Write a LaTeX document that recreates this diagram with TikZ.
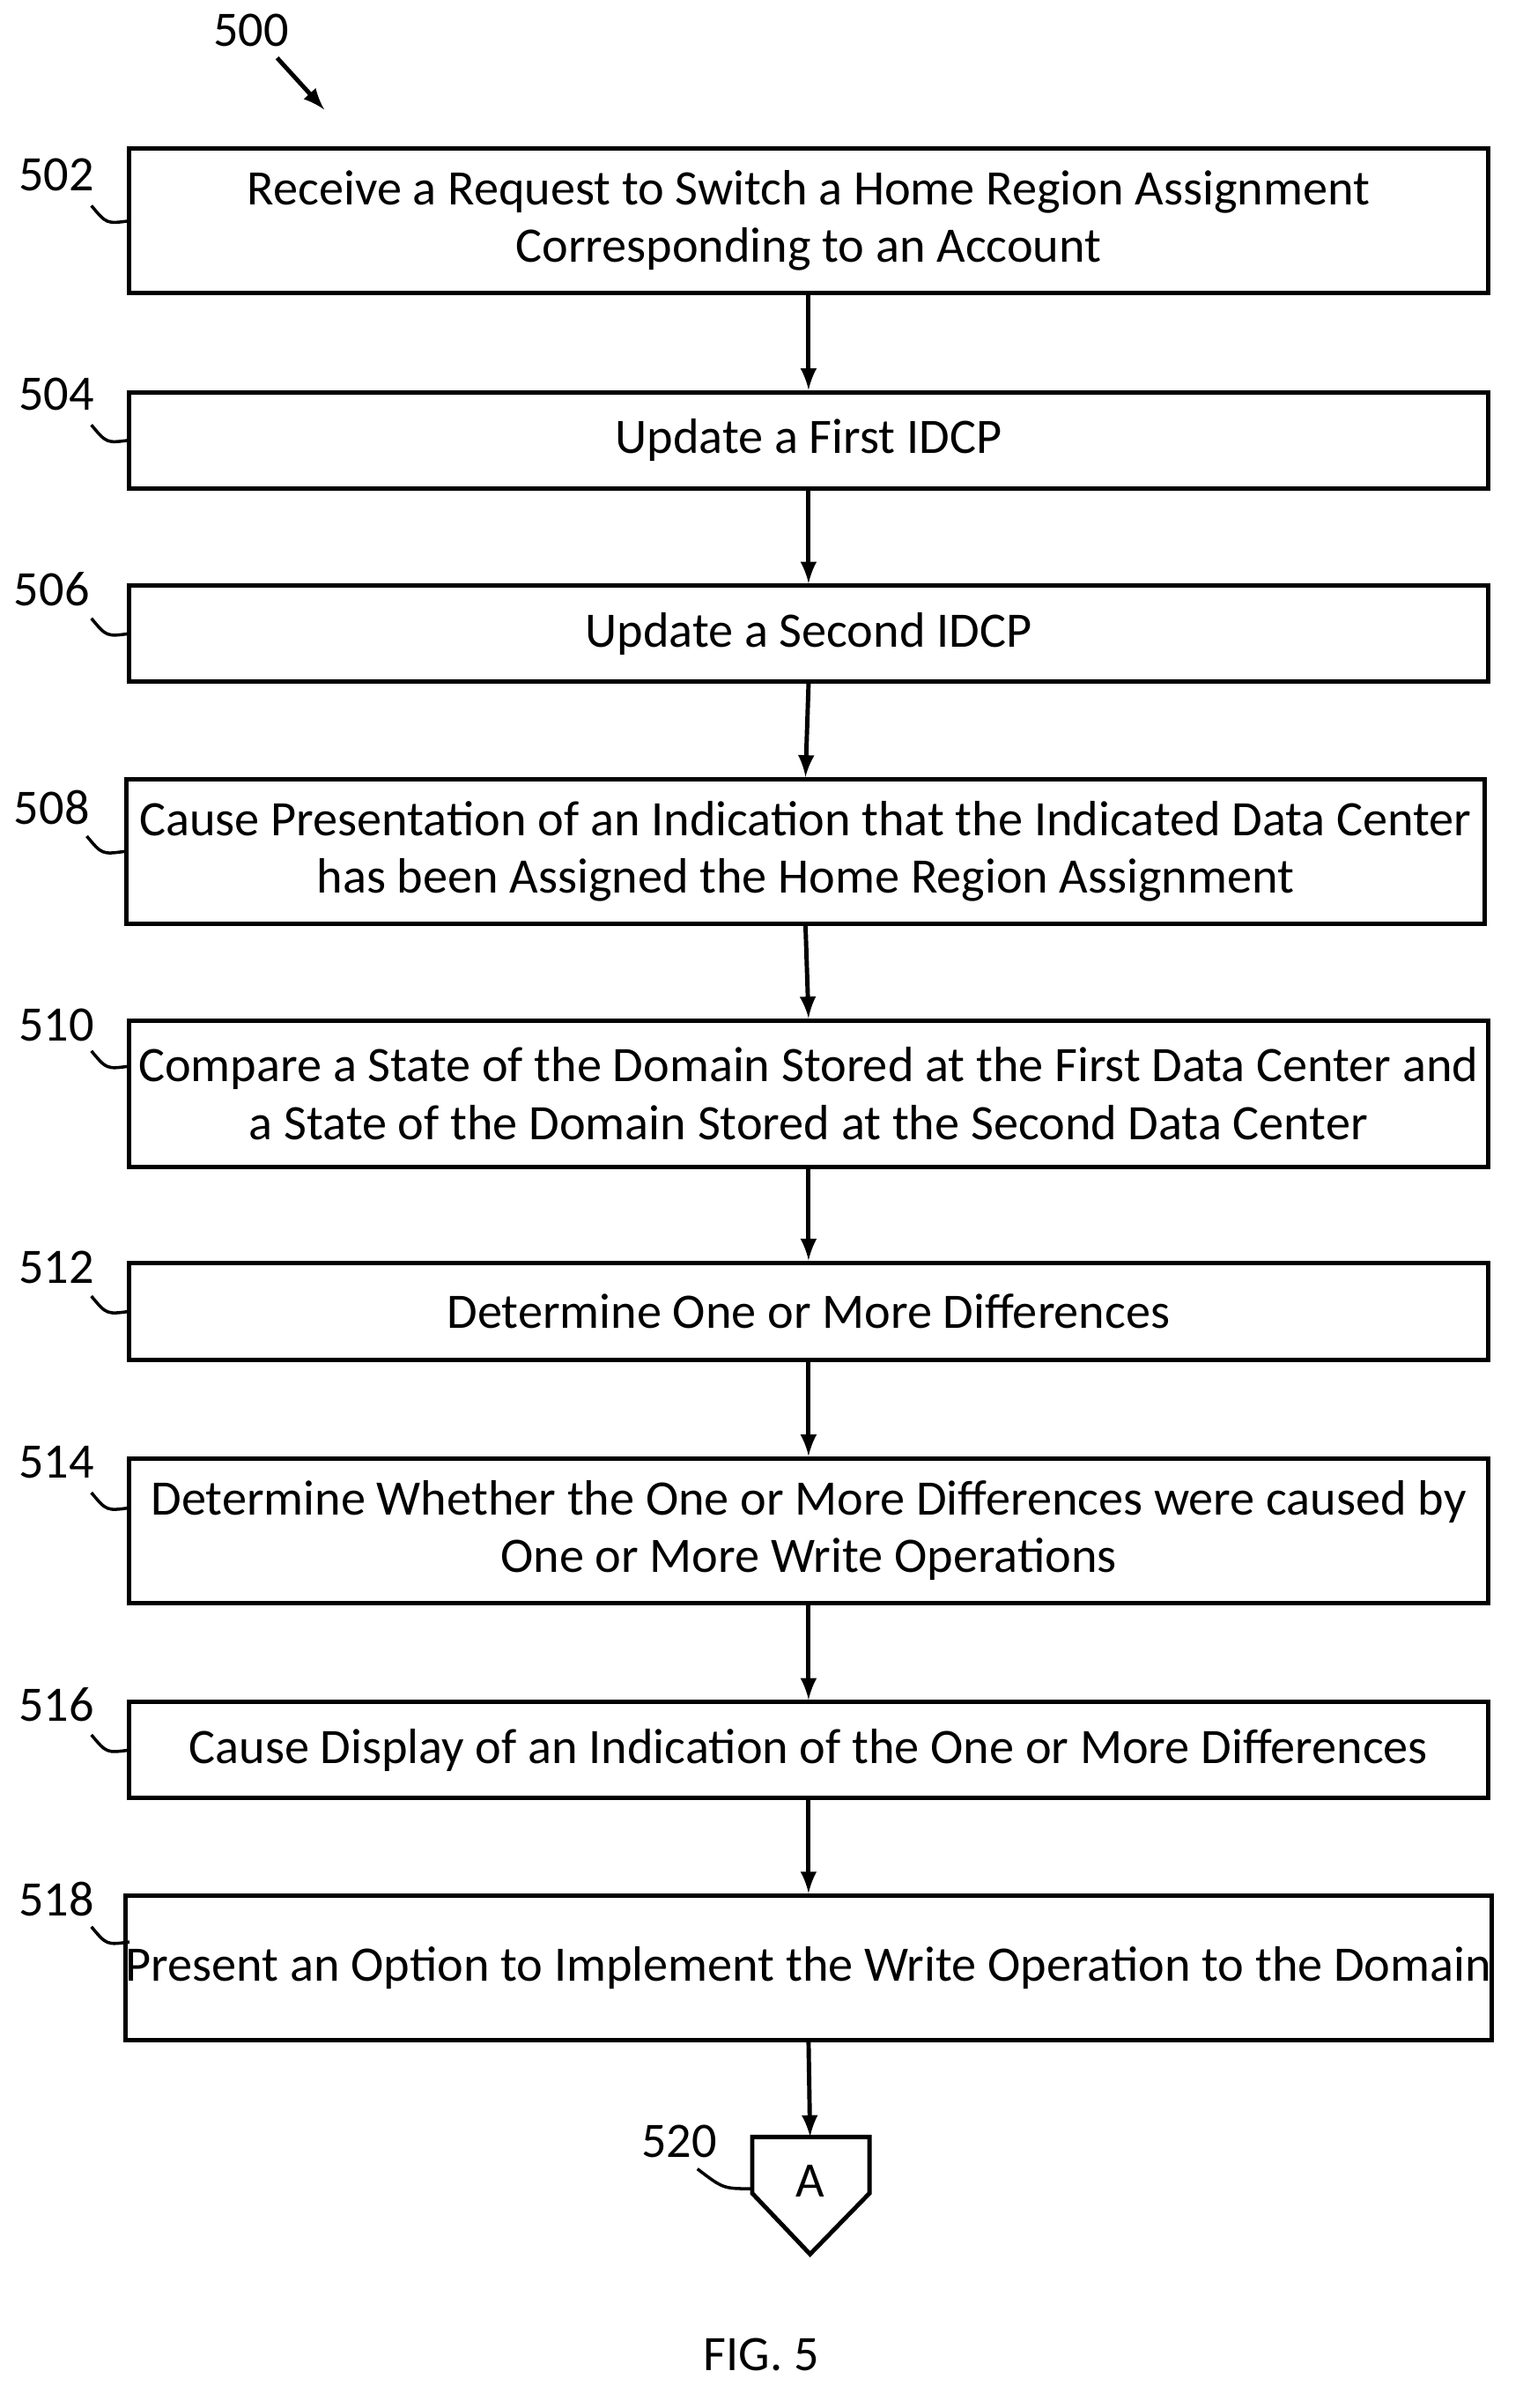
\documentclass[tikz,border=0pt]{standalone}
\usepackage{fontspec}
\setmainfont{Carlito}
\usetikzlibrary{positioning}
\begin{document}
\begin{tikzpicture}[x=0.01728cm,y=-0.01728cm,font=\fontsize{16}{18.5}\selectfont,
  flowbox/.style={draw,line width=1.4pt,minimum width=15.41cm,align=center,inner sep=0pt},
  reflabel/.style={anchor=center},
  flowarrow/.style={-latex,line width=1.4pt},
  leader/.style={line width=1pt}]
\useasboundingbox (0,0) rectangle (1000,1581);

% --- boxes ---
\node[flowbox,minimum height=95*0.01728cm] (s502) at (531,145) {Receive a Request to Switch a Home Region Assignment\\Corresponding to an Account};
\node[flowbox,minimum height=63*0.01728cm] (s504) at (531,289) {Update a First IDCP};
\node[flowbox,minimum height=63*0.01728cm] (s506) at (531,416) {Update a Second IDCP};
\node[flowbox,minimum height=95*0.01728cm] (s508) at (529,559) {Cause Presentation of an Indication that the Indicated Data Center\\has been Assigned the Home Region Assignment};
\node[flowbox,minimum height=96*0.01728cm] (s510) at (531,718) {Compare a State of the Domain Stored at the First Data Center and\\a State of the Domain Stored at the Second Data Center};
\node[flowbox,minimum height=64*0.01728cm] (s512) at (531,861) {Determine One or More Differences};
\node[flowbox,minimum height=95*0.01728cm] (s514) at (531,1005) {Determine Whether the One or More Differences were caused by\\One or More Write Operations};
\node[flowbox,minimum height=63*0.01728cm] (s516) at (531,1149) {Cause Display of an Indication of the One or More Differences};
\node[flowbox,minimum height=95*0.01728cm] (s518) at (531,1292) {Present an Option to Implement the Write Operation to the Domain};

% --- off-page connector ---
\draw[line width=1.4pt] (494,1403) -- (571,1403) -- (571,1440) -- (532,1480) -- (494,1440) -- cycle;
\node (s520) at (532,1432) {A};
\coordinate (s520top) at (532,1403);

% --- arrows ---
\foreach \a/\b in {s502/s504,s504/s506,s506/s508,s508/s510,s510/s512,s512/s514,s514/s516,s516/s518}
  \draw[flowarrow] (\a.south) -- (\b.north);
\draw[flowarrow] (s518.south) -- (s520top);

% --- reference numerals ---
\foreach \n/\y/\x in {502/115/37,504/259/37,506/387/34,508/530/34,510/673/37,512/832/37,514/960/37,516/1119/37,518/1247/37}
  \node[reflabel] (r\n) at (\x,\y) {\n};
\foreach \n/\y/\x in {502/145/85,504/289/85,506/416/85,508/559/82,510/700/85,512/861/85,514/990/85,516/1149/85,518/1275/85}
  \draw[leader] (\x-25,\y-10) .. controls (\x-15,\y+2) .. (\x,\y);
\node[reflabel] (r520) at (446,1406) {520};
\draw[leader] (458,1424) .. controls (475,1437) .. (494,1437);

\node[reflabel] (r500) at (165,20) {500};
\coordinate (r500tip) at (213,72);
\draw[-latex,line width=1.4pt] (182,38) -- (r500tip);

\node (fig) at (500,1546) {FIG. 5};
\end{tikzpicture}
\end{document}
